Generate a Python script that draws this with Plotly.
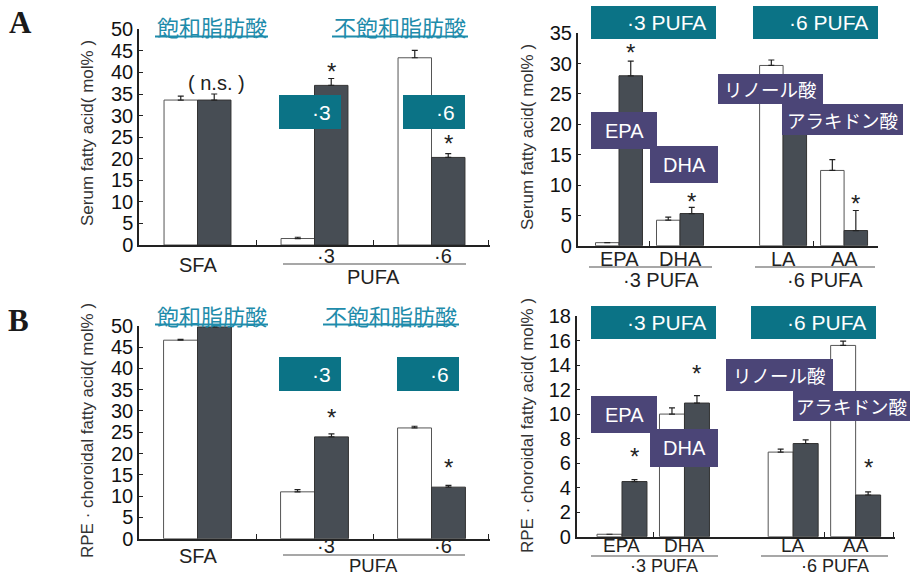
import plotly.graph_objects as go

W, H = 910, 577

# ---------------- data ----------------
main_groups = ["SFA", "·3", "·6"]
main_pos = [0, 1, 2]

serum_ctrl = [33.6, 1.5, 43.4]
serum_ctrl_err = [0.9, 0.3, 1.7]
serum_trt = [33.6, 37.0, 20.3]
serum_trt_err = [1.4, 1.6, 0.9]

rpe_ctrl = [46.6, 11.0, 26.0]
rpe_ctrl_err = [0.2, 0.5, 0.4]
rpe_trt = [49.7, 23.9, 12.1]
rpe_trt_err = [0.3, 0.7, 0.4]

pufa_names = ["EPA", "DHA", "LA", "AA"]
pufa_pos_a = [0, 1, 2.69, 3.69]
pufa_pos_b = [0, 1, 2.74, 3.74]

serum_pufa_ctrl = [0.5, 4.2, 29.7, 12.4]
serum_pufa_ctrl_err = [0.0, 0.5, 0.9, 1.8]
serum_pufa_trt = [28.0, 5.3, 24.0, 2.5]
serum_pufa_trt_err = [2.4, 1.0, 1.0, 3.3]

rpe_pufa_ctrl = [0.2, 10.0, 6.9, 15.6]
rpe_pufa_ctrl_err = [0.0, 0.5, 0.25, 0.35]
rpe_pufa_trt = [4.5, 10.9, 7.6, 3.4]
rpe_pufa_trt_err = [0.15, 0.6, 0.3, 0.25]

# significance marks: (category index, height of the mark in axis units)
stars_serum = [(1, 41.6), (2, 25.0)]
stars_serum_pufa = [(0, 32.8), (1, 8.35), (3, 8.0)]
stars_rpe = [(1, 29.8), (2, 18.1)]
stars_rpe_pufa = [(0, 7.07), (1, 13.76), (3, 6.1)]

# ---------------- style ----------------
FONT = "Liberation Sans, Arial, sans-serif"
JP = "Noto Sans CJK JP, sans-serif"
DARK = "#474d54"
TEAL_BOX = "#0b7386"
TEAL_TXT = "#1f8cab"
PURPLE = "#4b4577"
AX = "#222222"


def fx(p):
    return p / W


def fy(p):
    return 1 - p / H


fig = go.Figure()

panels = [
    dict(ax="", xpx=(139, 490), ypx=(245, 29.3), xr=[-0.5, 2.5], yr=[0, 50], dt=5, w=0.286,
         pos=main_pos, c=serum_ctrl, ce=serum_ctrl_err, t=serum_trt, te=serum_trt_err,
         ticks=[0.5, 1.5, 2.49], stars=stars_serum),
    dict(ax="2", xpx=(577.7, 878), ypx=(245.7, 33.3), xr=[-0.677, 4.246], yr=[0, 35], dt=5, w=0.385,
         pos=pufa_pos_a, c=serum_pufa_ctrl, ce=serum_pufa_ctrl_err, t=serum_pufa_trt,
         te=serum_pufa_trt_err, ticks=[0.5, 3.19, 4.23], stars=stars_serum_pufa),
    dict(ax="3", xpx=(139, 490), ypx=(538.7, 325.7), xr=[-0.5, 2.5], yr=[0, 50], dt=5, w=0.29,
         pos=main_pos, c=rpe_ctrl, ce=rpe_ctrl_err, t=rpe_trt, te=rpe_trt_err,
         ticks=[0.5, 1.5, 2.49], stars=stars_rpe),
    dict(ax="4", xpx=(576.7, 895), ypx=(536.7, 316), xr=[-0.725, 4.37], yr=[0, 18], dt=2, w=0.4,
         pos=pufa_pos_b, c=rpe_pufa_ctrl, ce=rpe_pufa_ctrl_err, t=rpe_pufa_trt,
         te=rpe_pufa_trt_err, ticks=[0.5, 3.24, 4.35], stars=stars_rpe_pufa),
]

annotations = []
shapes = []

for p in panels:
    xa, ya = "x" + p["ax"], "y" + p["ax"]
    n = len(p["pos"])
    err_style = dict(type="data", symmetric=False, arrayminus=[0] * n,
                     color=AX, thickness=1.2, width=3)
    fig.add_trace(go.Bar(
        x=p["pos"], y=p["c"], width=p["w"], offset=-p["w"],
        marker=dict(color="white", line=dict(color="#555", width=1)),
        error_y=dict(array=p["ce"], **err_style),
        xaxis=xa, yaxis=ya, showlegend=False, name="control"))
    fig.add_trace(go.Bar(
        x=p["pos"], y=p["t"], width=p["w"], offset=0,
        marker=dict(color=DARK, line=dict(color="#333", width=1)),
        error_y=dict(array=p["te"], **err_style),
        xaxis=xa, yaxis=ya, showlegend=False, name="treated"))

    xkey = "xaxis" + p["ax"]
    ykey = "yaxis" + p["ax"]
    fig.update_layout({
        xkey: dict(domain=[fx(p["xpx"][0]), fx(p["xpx"][1])], range=p["xr"], anchor=ya,
                   showline=True, linecolor=AX, linewidth=1.5, showgrid=False, zeroline=False,
                   tickmode="array", tickvals=p["ticks"], ticks="inside", ticklen=5,
                   tickcolor=AX, showticklabels=False, fixedrange=True, automargin=False),
        ykey: dict(domain=[fy(p["ypx"][0]), fy(p["ypx"][1])], range=p["yr"], anchor=xa,
                   showline=True, linecolor=AX, linewidth=1.5, showgrid=False, zeroline=False,
                   dtick=p["dt"], tick0=0, ticks="inside", ticklen=4, tickcolor=AX,
                   tickfont=dict(family=FONT, size=20, color="#111"), fixedrange=True,
                   automargin=False),
    })

    for idx, sy in p["stars"]:
        annotations.append(dict(
            x=p["pos"][idx] + p["w"] / 2, y=sy, xref=xa, yref=ya, text="*",
            showarrow=False, xanchor="center", yanchor="middle", yshift=-6,
            font=dict(family=FONT, size=24, color=AX)))


# ---------------- category labels ----------------
def label(text, x, xref, ypx, size=20, xshift=0, family=FONT):
    annotations.append(dict(x=x, y=fy(ypx), xref=xref, yref="paper", text=text,
                            showarrow=False, xshift=xshift, xanchor="center", yanchor="middle",
                            font=dict(family=family, size=size, color=AX)))


for xref, ys in (("x", (265, 256, 277)), ("x3", (556, 546, 565))):
    label(main_groups[0], main_pos[0], xref, ys[0])
    label(main_groups[1], main_pos[1], xref, ys[1], xshift=11)
    label(main_groups[2], main_pos[2], xref, ys[1], xshift=11)
    label("PUFA", 1.5, xref, ys[2], size=18.5 if xref == "x3" else 20)

for xref, pos, ylab, lsize, yg, gsize in (("x2", pufa_pos_a, 258.5, 20, 280, 20),
                                          ("x4", pufa_pos_b, 545.5, 19, 565.5, 18)):
    for name, xp in zip(pufa_names, pos):
        label(name, xp, xref, ylab, size=lsize)
    label("·3 PUFA", (pos[0] + pos[1]) / 2, xref, yg, size=gsize, xshift=11)
    label("·6 PUFA", (pos[2] + pos[3]) / 2, xref, yg, size=gsize, xshift=11)

# grey rules under grouped categories
for x0, x1, y in ((283, 466, 264), (283, 465, 555), (589, 712, 267), (755, 875, 267),
                  (591, 718, 556), (761, 888, 556)):
    shapes.append(dict(type="line", xref="paper", yref="paper", x0=fx(x0), x1=fx(x1),
                       y0=fy(y), y1=fy(y), line=dict(color="#8a8a8a", width=1.5)))

# ---------------- headings ----------------
for text, x0, x1, yt, yu in (("飽和脂肪酸", 155, 268, 26, 36.5),
                              ("不飽和脂肪酸", 332, 468, 26, 36.5),
                              ("飽和脂肪酸", 155, 268, 315, 324.5),
                              ("不飽和脂肪酸", 323, 459, 315, 324.5)):
    annotations.append(dict(x=fx((x0 + x1) / 2), y=fy(yt), xref="paper", yref="paper",
                            text=text, showarrow=False, xanchor="center", yanchor="middle",
                            font=dict(family=JP, size=22, color=TEAL_TXT)))
    shapes.append(dict(type="line", xref="paper", yref="paper", x0=fx(x0), x1=fx(x1),
                       y0=fy(yu), y1=fy(yu), line=dict(color=TEAL_TXT, width=1.8)))

annotations.append(dict(x=fx(216), y=fy(83), xref="paper", yref="paper", text="( n.s. )",
                        showarrow=False, xanchor="center", yanchor="middle",
                        font=dict(family=FONT, size=20, color=AX)))

# ---------------- label boxes ----------------
teal_boxes = [
    (279, 95, 341, 129, "·3"), (403, 95, 465, 129, "·6"),
    (591, 6, 716, 39, "·3 PUFA"), (753, 6, 878, 39, "·6 PUFA"),
    (279, 357, 341, 391, "·3"), (397, 357, 459, 391, "·6"),
    (591, 306, 716, 339, "·3 PUFA"), (751, 306, 876, 339, "·6 PUFA"),
]
for x0, y0, x1, y1, text in teal_boxes:
    shapes.append(dict(type="rect", xref="paper", yref="paper", x0=fx(x0), x1=fx(x1),
                       y0=fy(y1), y1=fy(y0), fillcolor=TEAL_BOX, line=dict(width=0),
                       layer="above"))
    annotations.append(dict(x=fx(x1 - 8), y=fy((y0 + y1) / 2), xref="paper", yref="paper",
                            text=text, showarrow=False, xanchor="right", yanchor="middle",
                            font=dict(family=FONT, size=21, color="white")))

purple_boxes = [
    (591, 112, 657, 149, "EPA"), (650, 146, 718, 183, "DHA"),
    (718, 74, 823, 104, "リノール酸"), (782, 104, 903, 135, "アラキドン酸"),
    (591, 396, 657, 433, "EPA"), (650, 429, 718, 467, "DHA"),
    (726, 359, 833, 391, "リノール酸"), (793, 391, 910, 421, "アラキドン酸"),
]
for x0, y0, x1, y1, text in purple_boxes:
    shapes.append(dict(type="rect", xref="paper", yref="paper", x0=fx(x0), x1=fx(x1),
                       y0=fy(y1), y1=fy(y0), fillcolor=PURPLE, line=dict(width=0),
                       layer="above"))
    jp = not text.isascii()
    annotations.append(dict(x=fx((x0 + x1) / 2), y=fy((y0 + y1) / 2), xref="paper",
                            yref="paper", text=text, showarrow=False, xanchor="center",
                            yanchor="middle",
                            font=dict(family=JP if jp else FONT, size=18.5 if jp else 20,
                                      color="white")))

# ---------------- axis titles ----------------
for text, x, y in (("Serum fatty acid( mol% )", 87, 133),
                   ("Serum fatty acid( mol% )", 527, 137),
                   ("RPE · choroidal fatty acid( mol% )", 87, 431),
                   ("RPE · choroidal fatty acid( mol% )", 527, 426)):
    annotations.append(dict(x=fx(x), y=fy(y), xref="paper", yref="paper", text=text,
                            textangle=-90, showarrow=False, xanchor="center", yanchor="middle",
                            font=dict(family=FONT, size=17, color="#333")))

# panel letters
for text, x, y in (("A", 20, 23), ("B", 18, 320)):
    annotations.append(dict(x=fx(x), y=fy(y), xref="paper", yref="paper", text=f"<b>{text}</b>",
                            showarrow=False, xanchor="center", yanchor="middle",
                            font=dict(family="Liberation Serif, serif", size=31, color="#1a1a1a")))

fig.update_layout(
    width=W, height=H, margin=dict(l=0, r=0, t=0, b=0, pad=0, autoexpand=False),
    paper_bgcolor="white", plot_bgcolor="white",
    barmode="overlay", showlegend=False,
    annotations=annotations, shapes=shapes,
)

fig.write_html("out.html", config={"displayModeBar": False})
